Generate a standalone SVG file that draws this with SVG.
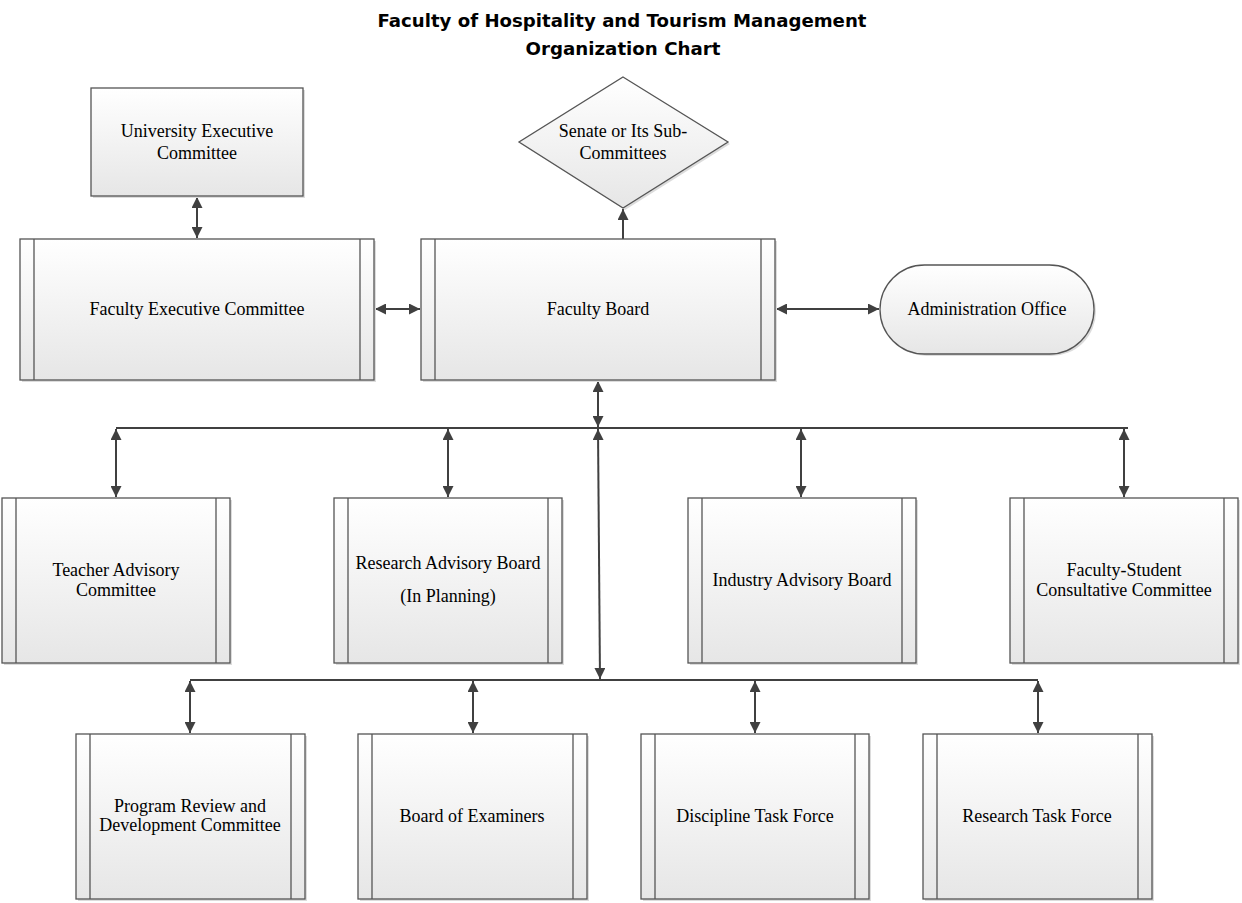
<svg xmlns="http://www.w3.org/2000/svg" width="1242" height="903" viewBox="0 0 1242 903">
<style>
.box{fill:url(#g);stroke:#555;stroke-width:1.3}
.sh{fill:#dcdcdc}
.in{stroke:#555;stroke-width:1.3}
.t{font-family:"Liberation Serif",serif;font-size:18px;fill:#000;text-anchor:middle}
.ttl{font-family:"DejaVu Sans","Liberation Sans",sans-serif;font-weight:bold;font-size:18px;fill:#000;text-anchor:middle}
.c{stroke:#404040;stroke-width:2;fill:none}
.bi{marker-start:url(#a);marker-end:url(#a)}
</style>
<defs>
<linearGradient id="g" x1="0" y1="0" x2="0" y2="1">
<stop offset="0" stop-color="#ffffff"/>
<stop offset="1" stop-color="#e6e6e6"/>
</linearGradient>
<marker id="a" viewBox="0 0 10 10" refX="10" refY="5" markerWidth="11" markerHeight="11" markerUnits="userSpaceOnUse" orient="auto-start-reverse">
<path d="M0,0 L10,5 L0,10 z" fill="#404040"/>
</marker>
</defs>
<rect width="1242" height="903" fill="#fff"/>
<g id="title">
<text class="ttl" x="622" y="27" textLength="489" lengthAdjust="spacingAndGlyphs">Faculty of Hospitality and Tourism Management</text>
<text class="ttl" x="623" y="55" textLength="195" lengthAdjust="spacingAndGlyphs">Organization Chart</text>
</g>
<g id="connectors">
<line class="c bi" x1="197" y1="197" x2="197" y2="238"/>
<line class="c bi" x1="375" y1="309" x2="420" y2="309"/>
<line class="c" x1="623" y1="239" x2="623" y2="209" marker-end="url(#a)"/>
<line class="c bi" x1="776" y1="309" x2="879" y2="309"/>
<line class="c bi" x1="598" y1="381" x2="598" y2="427"/>
<line class="c" x1="116" y1="428" x2="1128" y2="428"/>
<line class="c bi" x1="598" y1="429" x2="600" y2="679"/>
<line class="c bi" x1="116" y1="429" x2="116" y2="497"/>
<line class="c bi" x1="448" y1="429" x2="448" y2="497"/>
<line class="c bi" x1="801" y1="429" x2="801" y2="497"/>
<line class="c bi" x1="1124" y1="429" x2="1124" y2="497"/>
<line class="c" x1="190" y1="680" x2="1038" y2="680"/>
<line class="c bi" x1="190" y1="681" x2="190" y2="733"/>
<line class="c bi" x1="473" y1="681" x2="473" y2="733"/>
<line class="c bi" x1="755" y1="681" x2="755" y2="733"/>
<line class="c bi" x1="1038" y1="681" x2="1038" y2="733"/>
</g>
<g id="university-executive-committee">
<rect class="sh" x="93" y="90" width="212" height="108"/>
<rect class="box" x="91" y="88" width="212" height="108"/>
<text class="t" x="197" y="137">University Executive</text>
<text class="t" x="197" y="159">Committee</text>
</g>
<g id="senate">
<polygon class="sh" points="625,79 730,144 625,210 521,144"/>
<polygon class="box" points="623,77 728,142 623,208 519,142"/>
<text class="t" x="623" y="137">Senate or Its Sub-</text>
<text class="t" x="623" y="159">Committees</text>
</g>
<g id="faculty-executive-committee">
<rect class="sh" x="22" y="241" width="354" height="141"/>
<rect class="box" x="20" y="239" width="354" height="141"/>
<line class="in" x1="34" y1="239" x2="34" y2="380"/>
<line class="in" x1="360" y1="239" x2="360" y2="380"/>
<text class="t" x="197" y="315">Faculty Executive Committee</text>
</g>
<g id="faculty-board">
<rect class="sh" x="423" y="241" width="354" height="141"/>
<rect class="box" x="421" y="239" width="354" height="141"/>
<line class="in" x1="435" y1="239" x2="435" y2="380"/>
<line class="in" x1="761" y1="239" x2="761" y2="380"/>
<text class="t" x="598" y="315">Faculty Board</text>
</g>
<g id="administration-office">
<rect class="sh" x="882" y="267" width="214" height="89" rx="44.5"/>
<rect class="box" x="880" y="265" width="214" height="89" rx="44.5"/>
<text class="t" x="987" y="315">Administration Office</text>
</g>
<g id="teacher-advisory-committee">
<rect class="sh" x="4" y="500" width="228" height="165"/>
<rect class="box" x="2" y="498" width="228" height="165"/>
<line class="in" x1="16" y1="498" x2="16" y2="663"/>
<line class="in" x1="216" y1="498" x2="216" y2="663"/>
<text class="t" x="116" y="576">Teacher Advisory</text>
<text class="t" x="116" y="596">Committee</text>
</g>
<g id="research-advisory-board">
<rect class="sh" x="336" y="500" width="228" height="165"/>
<rect class="box" x="334" y="498" width="228" height="165"/>
<line class="in" x1="348" y1="498" x2="348" y2="663"/>
<line class="in" x1="548" y1="498" x2="548" y2="663"/>
<text class="t" x="448" y="569">Research Advisory Board</text>
<text class="t" x="448" y="602">(In Planning)</text>
</g>
<g id="industry-advisory-board">
<rect class="sh" x="690" y="500" width="228" height="165"/>
<rect class="box" x="688" y="498" width="228" height="165"/>
<line class="in" x1="702" y1="498" x2="702" y2="663"/>
<line class="in" x1="902" y1="498" x2="902" y2="663"/>
<text class="t" x="802" y="586">Industry Advisory Board</text>
</g>
<g id="faculty-student-consultative-committee">
<rect class="sh" x="1012" y="500" width="228" height="165"/>
<rect class="box" x="1010" y="498" width="228" height="165"/>
<line class="in" x1="1024" y1="498" x2="1024" y2="663"/>
<line class="in" x1="1224" y1="498" x2="1224" y2="663"/>
<text class="t" x="1124" y="576">Faculty-Student</text>
<text class="t" x="1124" y="596">Consultative Committee</text>
</g>
<g id="program-review-and-development-committee">
<rect class="sh" x="78" y="736" width="229" height="165"/>
<rect class="box" x="76" y="734" width="229" height="165"/>
<line class="in" x1="90" y1="734" x2="90" y2="899"/>
<line class="in" x1="291" y1="734" x2="291" y2="899"/>
<text class="t" x="190" y="812">Program Review and</text>
<text class="t" x="190" y="831">Development Committee</text>
</g>
<g id="board-of-examiners">
<rect class="sh" x="360" y="736" width="229" height="165"/>
<rect class="box" x="358" y="734" width="229" height="165"/>
<line class="in" x1="372" y1="734" x2="372" y2="899"/>
<line class="in" x1="573" y1="734" x2="573" y2="899"/>
<text class="t" x="472" y="822">Board of Examiners</text>
</g>
<g id="discipline-task-force">
<rect class="sh" x="643" y="736" width="228" height="165"/>
<rect class="box" x="641" y="734" width="228" height="165"/>
<line class="in" x1="655" y1="734" x2="655" y2="899"/>
<line class="in" x1="855" y1="734" x2="855" y2="899"/>
<text class="t" x="755" y="822">Discipline Task Force</text>
</g>
<g id="research-task-force">
<rect class="sh" x="925" y="736" width="229" height="165"/>
<rect class="box" x="923" y="734" width="229" height="165"/>
<line class="in" x1="937" y1="734" x2="937" y2="899"/>
<line class="in" x1="1138" y1="734" x2="1138" y2="899"/>
<text class="t" x="1037" y="822">Research Task Force</text>
</g>
</svg>
